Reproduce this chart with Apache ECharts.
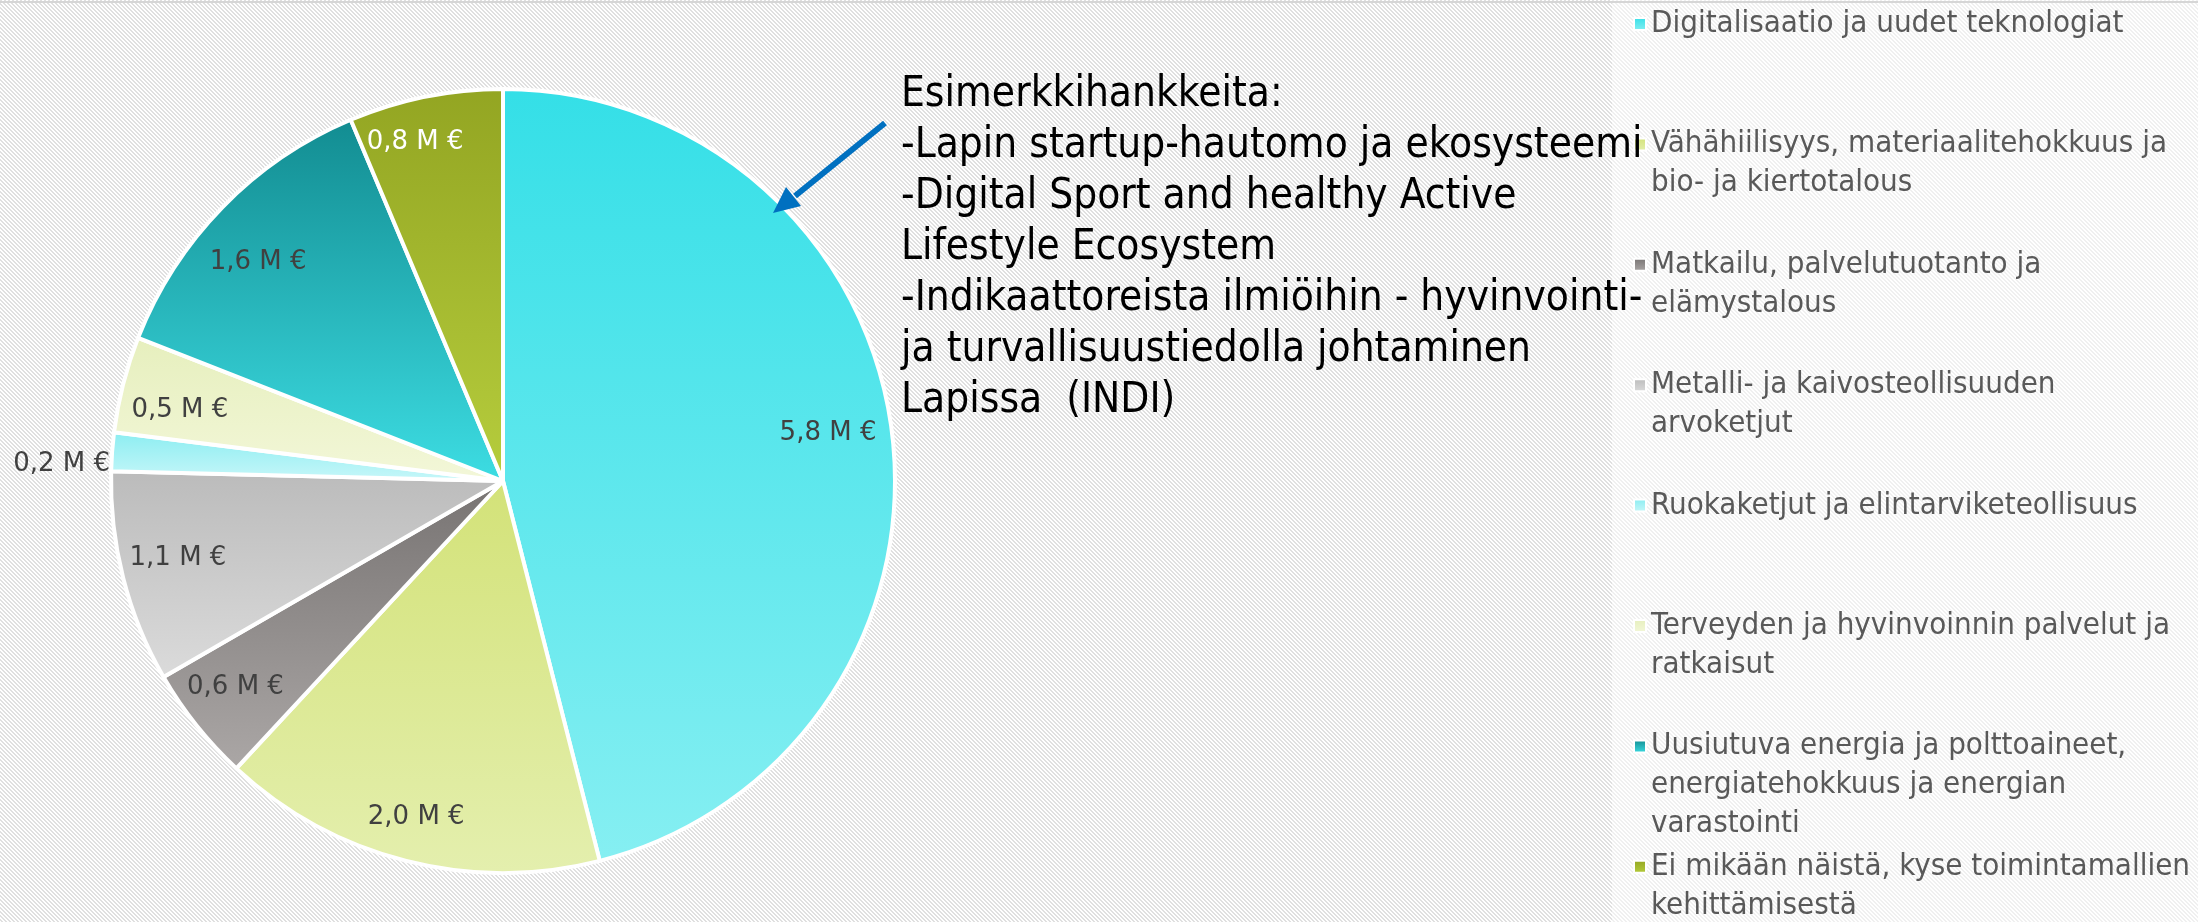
<!DOCTYPE html>
<html>
<head>
<meta charset="utf-8">
<script src="https://cdn.jsdelivr.net/npm/echarts@6/dist/echarts.min.js"></script>
<style>
  html, body { margin: 0; padding: 0; background: #fff; }
  #chart { width: 2198px; height: 922px; }
</style>
</head>
<body>
<div id="chart"></div>
<script>
// data
const categories = [
  "Digitalisaatio ja uudet teknologiat",
  "Vähähiilisyys, materiaalitehokkuus ja bio- ja kiertotalous",
  "Matkailu, palvelutuotanto ja elämystalous",
  "Metalli- ja kaivosteollisuuden arvoketjut",
  "Ruokaketjut ja elintarviketeollisuus",
  "Terveyden ja hyvinvoinnin palvelut ja ratkaisut",
  "Uusiutuva energia ja polttoaineet, energiatehokkuus ja energian varastointi",
  "Ei mikään näistä, kyse toimintamallien kehittämisestä"
];
const values = [5.8, 2.0, 0.6, 1.1, 0.2, 0.5, 1.6, 0.8];
const legendLabels = [
  "Digitalisaatio ja uudet teknologiat",
  "Vähähiilisyys, materiaalitehokkuus ja\nbio- ja kiertotalous",
  "Matkailu, palvelutuotanto ja\nelämystalous",
  "Metalli- ja kaivosteollisuuden\narvoketjut",
  "Ruokaketjut ja elintarviketeollisuus",
  "Terveyden ja hyvinvoinnin palvelut ja\nratkaisut",
  "Uusiutuva energia ja polttoaineet,\nenergiatehokkuus ja energian\nvarastointi",
  "Ei mikään näistä, kyse toimintamallien\nkehittämisestä"
];
const noteLines = [
  "Esimerkkihankkeita:",
  "-Lapin startup-hautomo ja ekosysteemi",
  "-Digital Sport and healthy Active",
  "Lifestyle Ecosystem",
  "-Indikaattoreista ilmiöihin - hyvinvointi-",
  "ja turvallisuustiedolla johtaminen",
  "Lapissa  (INDI)"
];

// styles
const topColors = ["#34dfe7", "#d3e278", "#777372", "#bbbbbb", "#8aedf1", "#e6efbd", "#128c91", "#93a522"];
const bottomColors = ["#86eff2", "#e4efae", "#aba7a6", "#dbdbdb", "#c9f7f9", "#f3f7d9", "#3ddde3", "#b6cd3d"];
const labelColors = ["#404040", "#404040", "#404040", "#404040", "#404040", "#404040", "#404040", "#ffffff"];
const labelRadius = [0.838, 0.885, 0.861, 0.852, 0, 0.844, 0.838, 0.893];
const labelTurn = [-1.2, 0.2, 1, 1, 0, -1.9, -2.5, -3.1]; // degrees
const labelOutside = [false, false, false, false, true, false, false, false];

const CX = 503, CY = 481, R = 392;
const total = values.reduce((a, b) => a + b, 0);
function midAngle(i) {
  let before = 0;
  for (let k = 0; k < i; k++) before += values[k];
  return (before + values[i] / 2) / total * Math.PI * 2;
}

// hatched background
const tile = document.createElement("canvas");
tile.width = 4; tile.height = 4;
const tctx = tile.getContext("2d");
tctx.fillStyle = "#ffffff";
tctx.fillRect(0, 0, 4, 4);
tctx.fillStyle = "#e0e0e0";
for (let y = 0; y < 4; y++) {
  for (let x = 0; x < 4; x++) {
    if ((x - y + 8) % 4 < 2) tctx.fillRect(x, y, 1, 1);
  }
}

const chart = echarts.init(document.getElementById("chart"), null, { renderer: "canvas" });

// one legend per item so every block starts 120px below the last one.
// legend text is centred on the marker, so blank lines are put in front
// to keep the marker level with the first text line
const LH = 39;
const legends = categories.map((name, i) => {
  const n = legendLabels[i].split("\n").length;
  const firstLine = 24 + i * 120.4;
  return {
    data: [name],
    orient: "vertical",
    left: 1633,
    top: firstLine - (2 * n - 1) * LH / 2,
    padding: 0,
    icon: "rect",
    itemWidth: 12,
    itemHeight: 12,
    formatter: () => "\n".repeat(n - 1) + legendLabels[i],
    textStyle: {
      color: "#595959",
      fontFamily: "DejaVu Sans Condensed",
      fontSize: 31,
      lineHeight: LH
    }
  };
});

const option = {
  backgroundColor: { image: tile, repeat: "repeat" },
  animation: false,
  title: {
    text: noteLines.join("\n"),
    left: 901,
    top: 70,
    padding: 0,
    textStyle: {
      color: "#000000",
      fontFamily: "DejaVu Sans Condensed",
      fontSize: 42,
      fontWeight: "normal",
      lineHeight: 51
    }
  },
  legend: legends,
  graphic: [
    { type: "rect", z: -1, shape: { x: 1612, y: 0, width: 600, height: 922 }, style: { fill: "rgba(255,255,255,0.5)" } },
    { type: "rect", z: -1, shape: { x: 0, y: 1, width: 2198, height: 2 }, style: { fill: "#d6d6d6" } },
    { type: "line", z: 10, shape: { x1: 885, y1: 123, x2: 795, y2: 196 }, style: { stroke: "#0070C0", lineWidth: 6 } },
    { type: "polygon", z: 10, shape: { points: [[773, 213], [801, 206], [786, 187]] }, style: { fill: "#0070C0" } }
  ],
  series: [{
    type: "pie",
    center: [CX, CY],
    radius: R,
    startAngle: 90,
    clockwise: true,
    avoidLabelOverlap: false,
    itemStyle: { borderColor: "#ffffff", borderWidth: 4 },
    label: {
      show: true,
      position: "inside",
      fontFamily: "DejaVu Sans",
      fontSize: 26,
      formatter: (p) => p.value.toFixed(1).replace(".", ",") + " M €"
    },
    labelLine: { show: false },
    labelLayout: (p) => {
      const i = p.dataIndex;
      const a = midAngle(i) + labelTurn[i] * Math.PI / 180;
      const s = Math.sin(a), c = Math.cos(a);
      if (labelOutside[i]) {
        return { x: CX + (R + 2) * s, y: CY - (R + 2) * c, align: "right", verticalAlign: "top" };
      }
      const d = R * labelRadius[i];
      return { x: CX + d * s, y: CY - d * c, align: "center", verticalAlign: "middle" };
    },
    emphasis: { disabled: true },
    data: categories.map((name, i) => ({
      name: name,
      value: values[i],
      itemStyle: {
        color: new echarts.graphic.LinearGradient(0, 0, 0, 1, [
          { offset: 0, color: topColors[i] },
          { offset: 1, color: bottomColors[i] }
        ])
      },
      label: { color: labelColors[i] }
    }))
  }]
};

chart.setOption(option);
</script>
</body>
</html>
